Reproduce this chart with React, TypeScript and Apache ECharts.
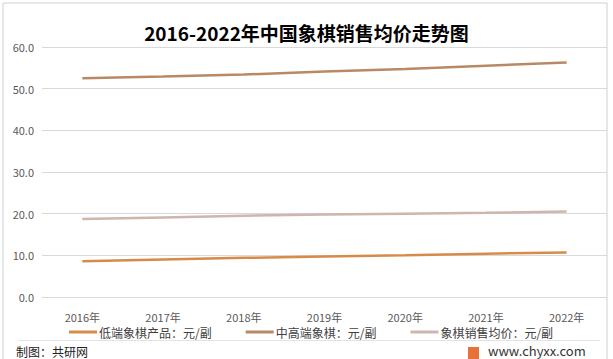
import React, { useEffect, useRef } from "react";
import * as echarts from "echarts";

const years = ["2016年", "2017年", "2018年", "2019年", "2020年", "2021年", "2022年"];
const lowEnd = [8.6, 9.0, 9.4, 9.7, 10.0, 10.4, 10.7];
const midHigh = [52.5, 52.9, 53.4, 54.1, 54.7, 55.5, 56.3];
const average = [18.7, 19.1, 19.5, 19.8, 20.0, 20.2, 20.5];
const seriesNames = ["低端象棋产品：元/副", "中高端象棋：元/副", "象棋销售均价：元/副"];
const titleText = "2016-2022年中国象棋销售均价走势图";
const sourceText = "制图：共研网";
const siteText = "www.chyxx.com";

const FONT = "'Noto Sans CJK SC', 'Noto Sans', sans-serif";

export default function App() {
  const ref = useRef<HTMLDivElement>(null);
  useEffect(() => {
    const chart = echarts.init(ref.current!, null, { renderer: "svg" });
    chart.setOption({
      animation: false,
      backgroundColor: "#ffffff",
      textStyle: { fontFamily: FONT },
      title: {
        text: titleText,
        left: "center",
        top: 18,
        textStyle: { fontSize: 19, fontWeight: "bold", color: "#000", fontFamily: FONT },
      },
      grid: { left: 42, right: 6, top: 47, bottom: 62 },
      xAxis: {
        type: "category",
        data: years,
        boundaryGap: true,
        axisLine: { show: false },
        axisTick: { show: false },
        axisLabel: { color: "#595959", fontSize: 11, margin: 14, fontFamily: FONT, interval: 0 },
      },
      yAxis: {
        type: "value",
        min: 0,
        max: 60,
        interval: 10,
        axisLine: { show: false },
        axisTick: { show: false },
        splitLine: { lineStyle: { color: "#d9d9d9", width: 1 } },
        axisLabel: {
          color: "#595959",
          fontSize: 11,
          margin: 8,
          fontFamily: FONT,
          formatter: (v: number) => v.toFixed(1),
        },
      },
      legend: {
        data: seriesNames,
        left: 64,
        top: 321,
        icon: "rect",
        itemWidth: 28,
        itemHeight: 3,
        itemGap: 34,
        textStyle: { color: "#404040", fontSize: 12, fontFamily: FONT, padding: [0, 0, 0, -3] },
      },
      series: [
        {
          name: seriesNames[0],
          type: "line",
          data: lowEnd,
          showSymbol: false,
          symbol: "none",
          lineStyle: { color: "#D68C48", width: 2.5 },
          itemStyle: { color: "#D68C48" },
        },
        {
          name: seriesNames[1],
          type: "line",
          data: midHigh,
          showSymbol: false,
          symbol: "none",
          lineStyle: { color: "#B98965", width: 2.5 },
          itemStyle: { color: "#B98965" },
        },
        {
          name: seriesNames[2],
          type: "line",
          data: average,
          showSymbol: false,
          symbol: "none",
          lineStyle: { color: "#CDB6AC", width: 2.5 },
          itemStyle: { color: "#CDB6AC" },
        },
      ],
      graphic: [
        {
          type: "rect",
          shape: { x: 3, y: 3, width: 604, height: 360 },
          style: { fill: "none", stroke: "#d0d0d0", lineWidth: 1 },
          silent: true,
        },
        {
          type: "line",
          shape: { x1: 18, y1: 340.5, x2: 600, y2: 340.5 },
          style: { stroke: "#e3e3e3", lineWidth: 1 },
          silent: true,
        },
        {
          type: "text",
          left: 16,
          top: 345,
          style: { text: sourceText, fill: "#222", fontSize: 12, fontFamily: FONT },
          silent: true,
        },
        {
          type: "rect",
          shape: { x: 468, y: 347, width: 11, height: 12 },
          style: { fill: "#E8713A" },
          silent: true,
        },
        {
          type: "text",
          left: 488,
          top: 344,
          style: { text: siteText, fill: "#333", fontSize: 13, fontFamily: FONT },
          silent: true,
        },
      ],
    });
    return () => chart.dispose();
  }, []);
  return (
    <div
      ref={ref}
      style={{ position: "fixed", left: 0, top: 0, width: 613, height: 359 }}
    />
  );
}
